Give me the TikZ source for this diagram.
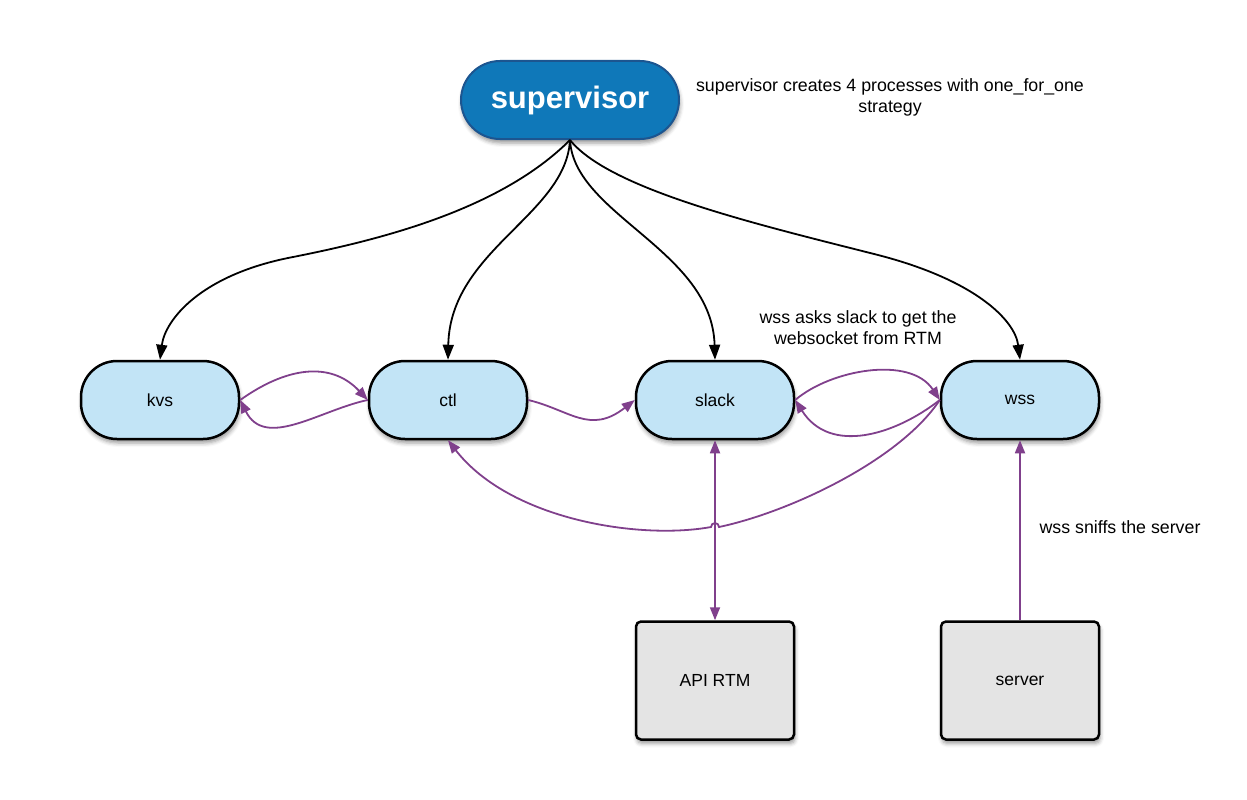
\documentclass[tikz,border=0pt]{standalone}
\usepackage{fontspec}
\setmainfont{Liberation Sans}
\usetikzlibrary{positioning,arrows.meta,shadows.blur}

\definecolor{supblue}{HTML}{0F78B9}
\definecolor{supline}{HTML}{1C5590}
\definecolor{procblue}{HTML}{C2E4F6}
\definecolor{extgray}{HTML}{E4E4E4}
\definecolor{msgpurple}{HTML}{80408C}

\begin{document}
\begin{tikzpicture}[x=1pt, y=-1pt, sup/.style={rectangle, rounded corners=39pt, minimum width=218pt, minimum height=78pt, draw=supline, line width=2pt, fill=supblue, text=white, font=\fontsize{31}{36}\selectfont\bfseries, blur shadow={shadow xshift=1pt, shadow yshift=-4pt, shadow blur radius=4pt, shadow opacity=40}}, proc/.style={rectangle, rounded corners=36pt, minimum width=158pt, minimum height=78pt, draw, line width=2.5pt, fill=procblue, font=\fontsize{17.5}{21}\selectfont, blur shadow={shadow xshift=1pt, shadow yshift=-4pt, shadow blur radius=4pt, shadow opacity=40}}, ext/.style={rectangle, rounded corners=5pt, minimum width=158pt, minimum height=118pt, draw, line width=2.5pt, fill=extgray, font=\fontsize{17.5}{21}\selectfont, blur shadow={shadow xshift=1pt, shadow yshift=-4pt, shadow blur radius=4pt, shadow opacity=40}}, note/.style={align=center, font=\fontsize{17.8}{21}\selectfont}, spawn/.style={line width=1.8pt, -{Triangle[length=15pt, width=11pt]}}, msg/.style={msgpurple, line width=1.8pt, -{Triangle[length=13pt, width=10pt]}}]
      \useasboundingbox (0,0) rectangle (1247,800);

      \node [sup] (sup) at (570,100) {supervisor};

      \node [note] (supnote) at (890,97) {supervisor creates 4 processes with one\_for\_one\\strategy};

      \node [proc] (kvs) at (160,400) {kvs};

      \node [proc, right = 127.5pt of kvs] (ctl) {ctl};

      \node [proc, right = 106.5pt of ctl] (slack) {slack};

      \node [proc, right = 144.5pt of slack] (wss) {wss};

      \node [ext, below = 180pt of slack] (api) {API RTM};

      \node [ext, below = 180pt of wss] (server) {server};

      \node [note] (asknote) at (858,328) {wss asks slack to get the\\websocket from RTM};

      \node [note] (sniffnote) at (1120,527) {wss sniffs the server};

      \draw[spawn] (sup.south) .. controls (500,210) and (380,240) .. (288,258) .. controls (200,276) and (165,320) .. (kvs.north);

      \draw[spawn] (sup.south) .. controls (566,215) and (450,250) .. (ctl.north);

      \draw[spawn] (sup.south) .. controls (574,215) and (712,250) .. (slack.north);

      \draw[spawn] (sup.south) .. controls (610,190) and (760,225) .. (878,255) .. controls (975,280) and (1015,320) .. (wss.north);

      \draw[msg] (kvs.east) .. controls (285,368) and (330,360) .. (ctl.west);

      \draw[msg] (ctl.west) .. controls (320,410) and (265,450) .. (kvs.east);

      \draw[msg] (ctl.east) .. controls (570,410) and (590,435) .. (slack.west);

      \draw[msg] (slack.east) .. controls (830,370) and (910,355) .. (wss.west);

      \draw[msg] (wss.west) .. controls (895,435) and (830,455) .. (slack.east);

      \draw[msg] (wss.west) .. controls (900,460) and (790,512) .. (719,527) arc[start angle=0, end angle=-180, radius=4] .. controls (640,540) and (510,520) .. (ctl.south);

      \draw[msg, {Triangle[length=13pt, width=10pt]}-{Triangle[length=13pt, width=10pt]}] (slack.south) -- (api.north);

      \draw[msg] (server.north) -- (wss.south);
    \end{tikzpicture}
\end{document}
